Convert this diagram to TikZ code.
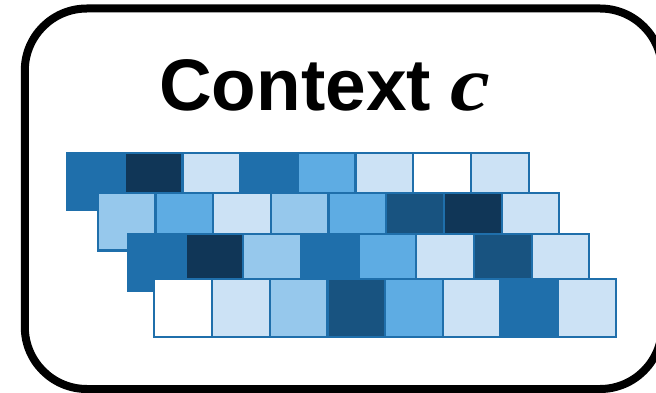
\documentclass[tikz,border=0pt]{standalone}
\usepackage{fontspec}
\setmainfont{Liberation Sans}
\newfontfamily\varfont[FakeStretch=1.15]{Liberation Serif}

% blue shades of the tiles
\definecolor{bA}{RGB}{204,226,245}
\definecolor{bB}{RGB}{150,200,236}
\definecolor{bC}{RGB}{94,172,227}
\definecolor{bD}{RGB}{31,111,171}
\definecolor{bE}{RGB}{24,83,128}
\definecolor{bF}{RGB}{16,54,87}

\tikzset{
  frame/.style={draw=black, line width=8pt, rounded corners=62pt},
  tile/.style={draw=bD, line width=2.2pt},
  title/.style={font=\fontsize{73}{80}\selectfont\bfseries, inner sep=0pt, anchor=base west}
}

\begin{document}
\begin{tikzpicture}[x=1pt, y=-1pt]
  \useasboundingbox (0,0) rectangle (656,393);

  % outer rounded frame
  \draw[frame] (24.8,8.5) rectangle (662,389);

  % heading
  \node[title] (head) at (159,111) {Context\hspace{20pt}{\varfont\fontsize{78}{84}\selectfont\bfseries\itshape c}};

  % four staggered strips of eight tiles, each laid over the previous one
  \foreach \r/\x/\y/\cols in {
      1/67/152.7/{bD,bF,bA,bD,bC,bA,white,bA},
      2/97.7/193/{bB,bC,bA,bB,bC,bE,bF,bA},
      3/127.7/233.7/{bD,bF,bB,bD,bC,bA,bE,bA},
      4/154.3/279.3/{white,bA,bB,bE,bC,bA,bD,bA}} {
    \foreach \c [count=\i from 0] in \cols {
      \path[tile, fill=\c] (\x+\i*57.7,\y) rectangle ++(57.7,57.5);
    }
  }
\end{tikzpicture}
\end{document}
